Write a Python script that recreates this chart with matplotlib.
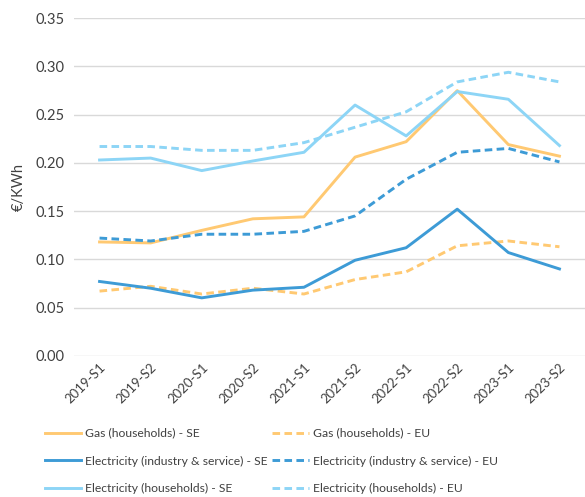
import matplotlib
matplotlib.use("Agg")
import matplotlib.pyplot as plt

periods = ["2019-S1", "2019-S2", "2020-S1", "2020-S2", "2021-S1",
           "2021-S2", "2022-S1", "2022-S2", "2023-S1", "2023-S2"]

gas_hh_se = [0.118, 0.117, 0.130, 0.142, 0.144, 0.206, 0.222, 0.275, 0.219, 0.207]
gas_hh_eu = [0.067, 0.072, 0.064, 0.070, 0.064, 0.079, 0.087, 0.114, 0.119, 0.113]
el_ind_se = [0.077, 0.070, 0.060, 0.068, 0.071, 0.099, 0.112, 0.152, 0.107, 0.090]
el_ind_eu = [0.122, 0.119, 0.126, 0.126, 0.129, 0.145, 0.183, 0.211, 0.215, 0.201]
el_hh_se = [0.203, 0.205, 0.192, 0.202, 0.211, 0.260, 0.228, 0.274, 0.266, 0.218]
el_hh_eu = [0.217, 0.217, 0.213, 0.213, 0.221, 0.237, 0.253, 0.284, 0.294, 0.284]

labels = ["Gas (households) - SE", "Gas (households) - EU",
          "Electricity (industry & service) - SE", "Electricity (industry & service) - EU",
          "Electricity (households) - SE", "Electricity (households) - EU"]

c_gas = "#FFC972"
c_ind = "#3D9BD6"
c_hh = "#8DD5F6"

plt.rcParams['font.family'] = ['Lato', 'DejaVu Sans']

fig = plt.figure(figsize=(5.85, 4.97), dpi=100)
ax = fig.add_axes([0.1265, 0.2843, 0.8735, 0.6789])

x = list(range(len(periods)))
lw = 2.1
dash = (2.6, 1.5)
series = [
    (gas_hh_se, c_gas, '-'), (gas_hh_eu, c_gas, '--'),
    (el_ind_se, c_ind, '-'), (el_ind_eu, c_ind, '--'),
    (el_hh_se, c_hh, '-'), (el_hh_eu, c_hh, '--'),
]
handles = []
for (vals, col, ls), lab in zip(series, labels):
    if ls == '--':
        h, = ax.plot(x, vals, color=col, lw=lw, dashes=dash, label=lab, zorder=3)
    else:
        h, = ax.plot(x, vals, color=col, lw=lw, label=lab, zorder=3)
    handles.append(h)

ax.set_xlim(-0.5, len(periods) - 0.5)
ax.set_ylim(0, 0.35)
ax.set_yticks([0.0, 0.05, 0.10, 0.15, 0.20, 0.25, 0.30, 0.35])
ax.set_yticklabels([f"{v:.2f}" for v in ax.get_yticks()], fontsize=10.5, color="#404040")
ax.set_xticks(x)
ax.set_xticklabels(periods, rotation=45, ha='right', rotation_mode='anchor',
                   fontsize=9.5, color="#404040")
ax.tick_params(axis='both', length=0, pad=7)
ax.tick_params(axis='x', pad=4)
for s in ax.spines.values():
    s.set_visible(False)
ax.yaxis.grid(True, color="#D9D9D9", lw=1.0)
ax.set_axisbelow(True)
ax.set_ylabel("€/KWh", fontsize=10.5, color="#404040", labelpad=7)

order = [0, 2, 4, 1, 3, 5]
leg = fig.legend(handles=[handles[i] for i in order], labels=[labels[i] for i in order],
                 ncol=2, loc='upper left',
                 bbox_to_anchor=(0.068, 0.149), frameon=False, fontsize=8.7,
                 handlelength=3.05, handletextpad=0.33, columnspacing=0.35,
                 labelspacing=1.38, labelcolor="#404040", borderaxespad=0)

fig.savefig("out.png", dpi=100)
